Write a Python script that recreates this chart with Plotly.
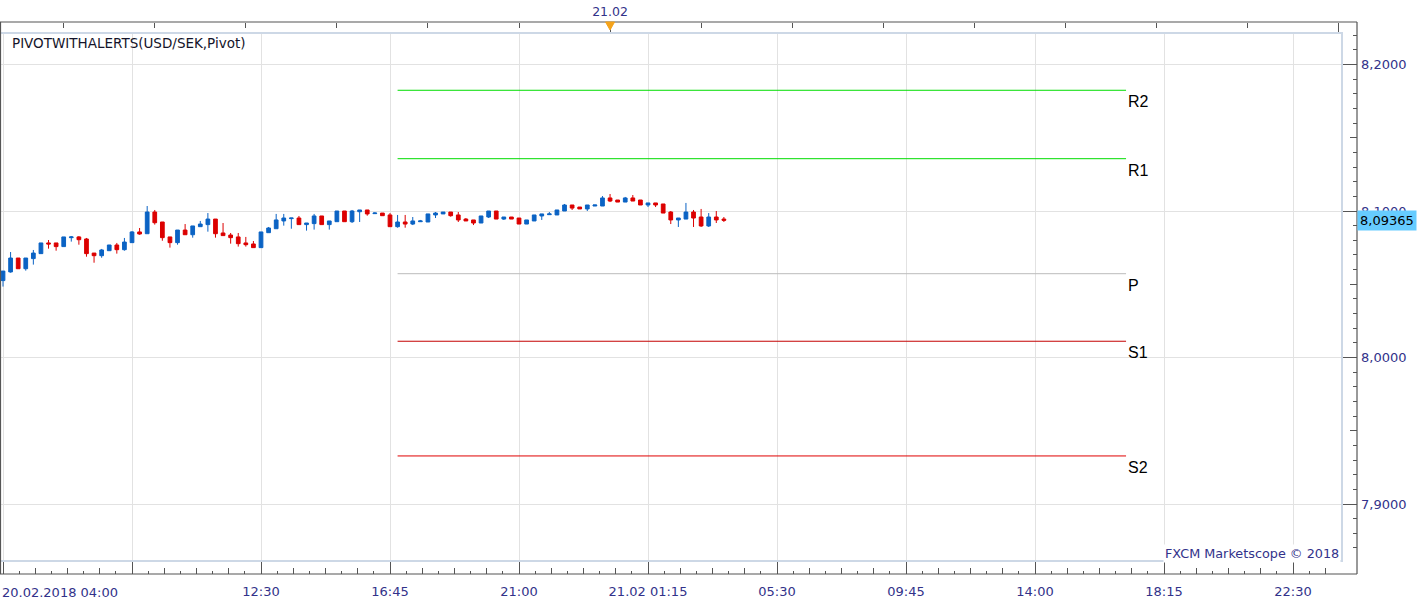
import pandas as pd
import plotly.graph_objects as go

# ---------------- data ----------------
START = "2018-02-20 04:00"
BAR = "15min"

opens = [8.0525, 8.0584, 8.0679, 8.0606, 8.0675, 8.0709, 8.0782, 8.0782, 8.0757, 8.0818,
         8.0823, 8.0809, 8.0713, 8.0695, 8.0729, 8.0768, 8.0736, 8.0784, 8.0857, 8.0845,
         8.0993, 8.0925, 8.0823, 8.0784, 8.0870, 8.0838, 8.0893, 8.0907, 8.0945, 8.0850,
         8.0836, 8.0823, 8.0782, 8.0775, 8.0750, 8.0852, 8.0879, 8.0932, 8.0948, 8.0952,
         8.0907, 8.0914, 8.0966, 8.0907, 8.0927, 8.1000, 8.0927, 8.0995, 8.1007, 8.0982,
         8.0986, 8.0973, 8.0893, 8.0925, 8.0911, 8.0927, 8.0925, 8.0973, 8.0980, 8.0993,
         8.0973, 8.0945, 8.0939, 8.0918, 8.0959, 8.1000, 8.0945, 8.0959, 8.0952, 8.0911,
         8.0932, 8.0966, 8.0975, 8.0973, 8.1000, 8.1041, 8.1027, 8.1014, 8.1034, 8.1034,
         8.1089, 8.1075, 8.1061, 8.1089, 8.1075, 8.1041, 8.1055, 8.1048, 8.0993, 8.0939,
         8.0945, 8.0993, 8.0959, 8.0898, 8.0959, 8.0945]
highs = [8.0590, 8.0720, 8.0679, 8.0679, 8.0734, 8.0782, 8.0802, 8.0782, 8.0823, 8.0829,
         8.0829, 8.0816, 8.0713, 8.0741, 8.0768, 8.0782, 8.0816, 8.0863, 8.0884, 8.1034,
         8.1007, 8.0925, 8.0823, 8.0870, 8.0911, 8.0898, 8.0932, 8.0986, 8.0945, 8.0918,
         8.0850, 8.0850, 8.0823, 8.0795, 8.0857, 8.0891, 8.0980, 8.0980, 8.0952, 8.0966,
         8.0918, 8.0980, 8.0966, 8.0932, 8.1000, 8.1000, 8.1007, 8.1007, 8.1007, 8.0991,
         8.0986, 8.0986, 8.0973, 8.0973, 8.0959, 8.0939, 8.0980, 8.0993, 8.0993, 8.0993,
         8.0993, 8.0952, 8.0939, 8.0966, 8.1000, 8.1000, 8.0959, 8.0959, 8.0952, 8.0939,
         8.0973, 8.0980, 8.0993, 8.1007, 8.1048, 8.1041, 8.1027, 8.1041, 8.1041, 8.1102,
         8.1116, 8.1075, 8.1096, 8.1109, 8.1075, 8.1055, 8.1055, 8.1048, 8.1000, 8.0952,
         8.1055, 8.1007, 8.1014, 8.0986, 8.1000, 8.0959]
lows = [8.0484, 8.0579, 8.0606, 8.0593, 8.0634, 8.0709, 8.0743, 8.0729, 8.0757, 8.0791,
        8.0770, 8.0688, 8.0647, 8.0681, 8.0729, 8.0709, 8.0729, 8.0784, 8.0838, 8.0845,
        8.0907, 8.0797, 8.0750, 8.0770, 8.0838, 8.0818, 8.0893, 8.0859, 8.0818, 8.0832,
        8.0777, 8.0757, 8.0757, 8.0750, 8.0750, 8.0852, 8.0879, 8.0900, 8.0879, 8.0907,
        8.0866, 8.0873, 8.0907, 8.0873, 8.0927, 8.0927, 8.0918, 8.0925, 8.0968, 8.0982,
        8.0968, 8.0893, 8.0886, 8.0886, 8.0904, 8.0927, 8.0925, 8.0952, 8.0980, 8.0961,
        8.0925, 8.0932, 8.0904, 8.0918, 8.0952, 8.0945, 8.0939, 8.0945, 8.0911, 8.0911,
        8.0932, 8.0939, 8.0975, 8.0973, 8.1000, 8.1007, 8.1014, 8.1000, 8.1034, 8.1034,
        8.1061, 8.1061, 8.1061, 8.1068, 8.1041, 8.1027, 8.1027, 8.0986, 8.0911, 8.0891,
        8.0945, 8.0891, 8.0891, 8.0891, 8.0918, 8.0925]
closes = [8.0590, 8.0679, 8.0606, 8.0679, 8.0713, 8.0782, 8.0775, 8.0757, 8.0823, 8.0823,
          8.0804, 8.0709, 8.0695, 8.0734, 8.0768, 8.0736, 8.0788, 8.0857, 8.0843, 8.0993,
          8.0920, 8.0818, 8.0784, 8.0870, 8.0838, 8.0898, 8.0911, 8.0945, 8.0845, 8.0832,
          8.0818, 8.0777, 8.0770, 8.0750, 8.0857, 8.0884, 8.0939, 8.0952, 8.0952, 8.0907,
          8.0918, 8.0966, 8.0907, 8.0932, 8.1000, 8.0927, 8.1000, 8.1007, 8.0980, 8.0986,
          8.0968, 8.0893, 8.0925, 8.0911, 8.0932, 8.0932, 8.0980, 8.0986, 8.0993, 8.0968,
          8.0939, 8.0932, 8.0918, 8.0966, 8.1000, 8.0945, 8.0959, 8.0945, 8.0911, 8.0939,
          8.0973, 8.0980, 8.0980, 8.1007, 8.1041, 8.1020, 8.1014, 8.1041, 8.1041, 8.1089,
          8.1068, 8.1061, 8.1089, 8.1068, 8.1041, 8.1055, 8.1041, 8.0986, 8.0939, 8.0952,
          8.0993, 8.0952, 8.0898, 8.0959, 8.0939, 8.09365]

pivot_names = ["R2", "R1", "P", "S1", "S2"]
pivot_values = [8.1824, 8.1357, 8.0572, 8.0111, 7.9328]
pivot_start = "2018-02-20 17:00"
pivot_end = "2018-02-21 17:00"

x_tick_vals = ["2018-02-20 04:00", "2018-02-20 08:15", "2018-02-20 12:30", "2018-02-20 16:45",
               "2018-02-20 21:00", "2018-02-21 01:15", "2018-02-21 05:30", "2018-02-21 09:45",
               "2018-02-21 14:00", "2018-02-21 18:15", "2018-02-21 22:30"]
x_tick_text = ["", "", "12:30", "16:45", "21:00", "21.02 01:15", "05:30", "09:45",
               "14:00", "18:15", "22:30"]
first_label = "20.02.2018 04:00"
top_tick_start, top_tick_end = "2018-02-20 06:00", "2018-02-22 00:00"
day_marks = ["2018-02-21 00:00", "2018-02-22 00:00"]
day_text = ["21.02", ""]
y_tick_vals = [7.9, 8.0, 8.1, 8.2]
last_price = closes[-1]
title_text = "PIVOTWITHALERTS(USD/SEK,Pivot)"
credit_text = "FXCM Marketscope © 2018"

# ---------------- style / geometry ----------------
W, H = 1423, 604
BLUE = "#0b63c4"
RED = "#dc0000"
PIVOT_COLORS = ["#00dd00", "#00dd00", "#bcbcbc", "#c40000", "#e00000"]
NAVY = "#32328a"
GRID = "#e2e2e2"
FRAME = "#555555"
FONT = "DejaVu Sans"

def fx(px):
    return px / W

def fy(py):
    return 1 - py / H

PLOT_L, PLOT_R, PLOT_T, PLOT_B = 0, 1342, 33, 561
AXIS_R, AXIS_B, AXIS_T = 1357, 574, 22
PX_PER_MIN = 129 / 255
X0_PX = 3
t0 = pd.Timestamp(START)
x_range = [str(t0 - pd.Timedelta(minutes=(X0_PX - PLOT_L) / PX_PER_MIN)),
           str(t0 + pd.Timedelta(minutes=(PLOT_R - X0_PX) / PX_PER_MIN))]
PX_PER_UNIT = 1465
Y_REF, Y_REF_PX = 8.1, 211
y_range = [Y_REF - (PLOT_B - Y_REF_PX) / PX_PER_UNIT, Y_REF + (Y_REF_PX - PLOT_T) / PX_PER_UNIT]

times = pd.date_range(START, periods=len(opens), freq=BAR)
top_ticks = [str(t) for t in pd.date_range(top_tick_start, top_tick_end, freq="3h")]

fig = go.Figure()
fig.add_trace(go.Candlestick(
    x=times, open=opens, high=highs, low=lows, close=closes,
    increasing=dict(line=dict(color=BLUE, width=1), fillcolor=BLUE),
    decreasing=dict(line=dict(color=RED, width=1), fillcolor=RED),
    whiskerwidth=0, showlegend=False, hoverinfo="skip"))

for name, val, col in zip(pivot_names, pivot_values, PIVOT_COLORS):
    fig.add_trace(go.Scatter(x=[pivot_start, pivot_end], y=[val, val], mode="lines",
                             line=dict(color=col, width=1), showlegend=False, hoverinfo="skip"))

# invisible anchors so that the overlay axes are drawn
for xa, ya in [("x2", "y"), ("x3", "y"), ("x4", "y"), ("x5", "y"), ("x", "y2"), ("x", "y3")]:
    fig.add_trace(go.Scatter(x=[times[0]], y=[closes[0]], xaxis=xa, yaxis=ya, mode="markers",
                             marker=dict(opacity=0), showlegend=False, hoverinfo="skip"))

xdom = [fx(PLOT_L), fx(PLOT_R)]
ydom = [fy(PLOT_B), fy(PLOT_T)]
tickfont = dict(family=FONT, size=13, color=NAVY)

fig.update_layout(
    width=W, height=H, margin=dict(l=0, r=0, t=0, b=0),
    paper_bgcolor="white", plot_bgcolor="white",
    separators=",.", showlegend=False, hovermode=False,
    xaxis=dict(type="date", domain=xdom, range=x_range, tickvals=x_tick_vals,
               showticklabels=False, ticks="", showgrid=True, gridcolor=GRID, gridwidth=1,
               zeroline=False, showline=False, rangeslider=dict(visible=False), fixedrange=True),
    xaxis2=dict(type="date", overlaying="x", anchor="free", position=fy(AXIS_B), side="bottom",
                range=x_range, tickmode="array", tickvals=x_tick_vals, ticktext=x_tick_text,
                ticks="inside", ticklen=13, tickcolor=FRAME, tickwidth=1, showgrid=False,
                zeroline=False, showline=False, tickfont=tickfont, ticklabelstandoff=8,
                minor=dict(tickmode="linear", tick0=START, dtick=63.75 * 60000, ticks="inside",
                           ticklen=6, tickcolor=FRAME, showgrid=False)),
    xaxis3=dict(type="date", overlaying="x", anchor="free", position=fy(AXIS_B), side="bottom",
                range=x_range, tickmode="linear", tick0=START, dtick=31.875 * 60000,
                ticks="inside", ticklen=3, tickcolor=FRAME, showticklabels=False,
                showgrid=False, zeroline=False, showline=False),
    xaxis4=dict(type="date", overlaying="x", anchor="free", position=fy(AXIS_T), side="top",
                range=x_range, tickmode="array", tickvals=top_ticks, ticks="inside", ticklen=5,
                tickcolor=FRAME, showticklabels=False, showgrid=False, zeroline=False,
                showline=False),
    xaxis5=dict(type="date", overlaying="x", anchor="free", position=fy(AXIS_T), side="top",
                range=x_range, tickmode="array", tickvals=day_marks, ticktext=day_text,
                ticks="inside", ticklen=11, tickcolor=FRAME,
                tickfont=dict(family=FONT, size=12.5, color=NAVY),
                ticklabelstandoff=4,
                showgrid=False, zeroline=False, showline=False),
    yaxis=dict(domain=ydom, range=y_range, tickvals=y_tick_vals, showticklabels=False,
               ticks="", showgrid=True, gridcolor=GRID, zeroline=False, showline=False,
               fixedrange=True),
    yaxis2=dict(overlaying="y", anchor="free", position=fx(AXIS_R), side="right",
                range=y_range, tickmode="linear", tick0=0, dtick=0.1, tickformat=".4f",
                ticks="inside", ticklen=15, tickcolor=FRAME, tickfont=tickfont,
                ticklabelstandoff=3,
                showgrid=False, zeroline=False, showline=False,
                minor=dict(tickmode="linear", tick0=0, dtick=0.01, ticks="inside",
                           ticklen=4, tickcolor=FRAME, showgrid=False)),
    yaxis3=dict(overlaying="y", anchor="free", position=fx(AXIS_R), side="right",
                range=y_range, tickmode="linear", tick0=0, dtick=0.05, ticks="inside",
                ticklen=7, tickcolor=FRAME, showticklabels=False, showgrid=False,
                zeroline=False, showline=False),
)

# frame
shapes = [
    dict(type="rect", xref="paper", yref="paper", x0=fx(PLOT_L), x1=fx(PLOT_R),
         y0=fy(PLOT_B), y1=fy(PLOT_T), line=dict(color="#cdd8e6", width=2), layer="above"),
    dict(type="line", xref="paper", yref="paper", x0=0, x1=fx(AXIS_R),
         y0=fy(AXIS_T), y1=fy(AXIS_T), line=dict(color=FRAME, width=1.2), layer="above"),
    dict(type="line", xref="paper", yref="paper", x0=0, x1=fx(AXIS_R),
         y0=fy(AXIS_B), y1=fy(AXIS_B), line=dict(color=FRAME, width=1.2), layer="above"),
    dict(type="line", xref="paper", yref="paper", x0=fx(AXIS_R), x1=fx(AXIS_R),
         y0=fy(AXIS_B), y1=fy(AXIS_T), line=dict(color=FRAME, width=1.2), layer="above"),
    dict(type="line", xref="paper", yref="paper", x0=fx(0.5), x1=fx(0.5),
         y0=fy(AXIS_B), y1=fy(AXIS_T), line=dict(color=FRAME, width=1.2), layer="above"),
    dict(type="path", xref="x", yref="paper", xsizemode="pixel", ysizemode="pixel",
         xanchor=day_marks[0], yanchor=fy(AXIS_T), path="M -4.5 0 L 4.5 0 L 0 -8 Z",
         fillcolor="#f5a31a", line=dict(color="#f5a31a", width=1), layer="above"),
]
fig.update_layout(shapes=shapes)

annotations = [
    dict(text=title_text, xref="paper", yref="paper", x=fx(10), y=fy(43), xanchor="left",
         yanchor="middle", showarrow=False, font=dict(family=FONT, size=13.5, color="#14142a")),
    dict(text=credit_text, xref="paper", yref="paper", x=fx(1341), y=fy(553), xanchor="right",
         yanchor="middle", showarrow=False, bgcolor="white",
         font=dict(family=FONT, size=12.8, color=NAVY)),
    dict(text=first_label, xref="paper", yref="paper", x=0, y=fy(592.5), xanchor="left",
         yanchor="middle", showarrow=False, font=tickfont),
    dict(text=f"{last_price:.5f}".replace(".", ","), xref="paper", yref="y", x=fx(AXIS_R),
         y=last_price, xanchor="left", yanchor="middle", showarrow=False, bgcolor="#66ccff",
         borderpad=2, font=dict(family=FONT, size=13, color="black")),
]
for name, val in zip(pivot_names, pivot_values):
    annotations.append(dict(text=name, xref="x", yref="y", x=pivot_end, y=val, xanchor="left",
                            yanchor="top", showarrow=False, yshift=-1,
                            font=dict(family="Liberation Sans", size=16, color="black")))
fig.update_layout(annotations=annotations)

fig.write_html("out.html")
